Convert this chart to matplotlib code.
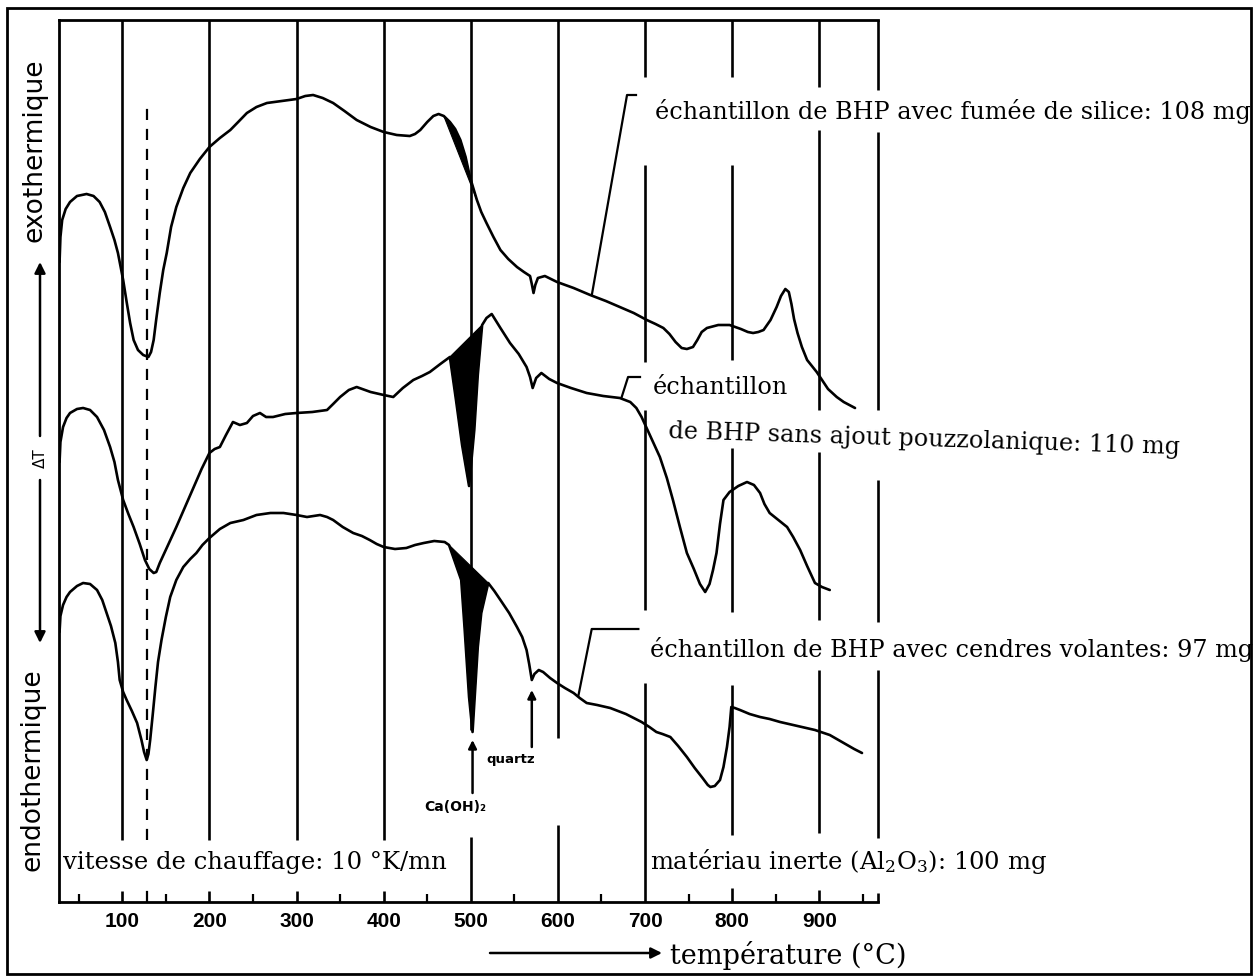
import matplotlib
matplotlib.use("Agg")
import matplotlib.pyplot as plt
from matplotlib.patches import Rectangle, FancyArrowPatch

plt.rcParams['mathtext.fontset'] = 'dejavuserif'

W, H = 1258, 976

# DTA curves, temperature in °C, ΔT in chart units
t_silica = [28, 29, 31, 35, 40, 48, 59, 67, 74, 80, 86, 91, 95, 101, 105, 109, 113,
            118, 124, 130, 133, 136, 139, 143, 147, 151, 156, 162, 170, 178, 189,
            200, 212, 224, 233, 243, 254, 266, 283, 300, 310, 319, 330, 342, 355,
            369, 385, 400, 415, 430, 436, 442, 450, 457, 463, 469, 476, 482, 488,
            494, 499, 507, 512, 518, 526, 534, 543, 553, 561, 568, 570, 572, 574,
            577, 585, 599, 618, 637, 655, 671, 687, 702, 712, 721, 728, 735, 742,
            748, 755, 760, 765, 771, 784, 797, 810, 818, 824, 830, 836, 844, 851,
            856, 861, 865, 868, 871, 875, 880, 886, 897, 910, 920, 928, 941]
dt_silica = [64.0, 66.5, 68.2, 69.3, 70.0, 70.6, 70.8, 70.6, 70.0, 69.0, 67.5, 66.2,
             64.9, 62.2, 60.0, 57.9, 56.2, 55.2, 54.7, 54.5, 55.0, 56.2, 58.3, 60.9,
             63.2, 64.9, 67.5, 69.5, 71.4, 72.9, 74.3, 75.5, 76.4, 77.2, 78.0, 78.9,
             79.5, 79.9, 80.1, 80.3, 80.6, 80.7, 80.4, 79.9, 79.1, 78.2, 77.5, 77.0,
             76.7, 76.6, 76.8, 77.2, 78.0, 78.6, 78.8, 78.6, 78.0, 77.3, 76.2, 74.5,
             72.5, 70.2, 69.0, 67.9, 66.5, 65.2, 64.3, 63.5, 63.0, 62.6, 61.8, 60.9,
             61.7, 62.4, 62.6, 62.0, 61.4, 60.7, 60.1, 59.5, 58.9, 58.2, 57.8, 57.4,
             56.8, 56.0, 55.4, 55.3, 55.5, 56.2, 57.0, 57.4, 57.7, 57.7, 57.3, 57.0,
             56.9, 57.0, 57.2, 58.2, 59.5, 60.6, 61.3, 61.0, 59.8, 58.3, 56.9, 55.5,
             54.2, 53.0, 51.3, 50.5, 50.0, 49.4]

t_plain = [28, 29, 32, 36, 40, 48, 55, 63, 71, 79, 86, 91, 95, 101, 107, 113, 120,
           126, 131, 136, 139, 143, 152, 162, 172, 182, 191, 200, 206, 212, 219,
           227, 235, 243, 250, 258, 265, 273, 287, 300, 318, 335, 342, 350, 360,
           369, 385, 400, 411, 422, 434, 444, 453, 465, 476, 483, 490, 498, 504,
           508, 513, 518, 524, 534, 545, 555, 564, 568, 571, 575, 581, 590, 599,
           615, 633, 652, 671, 683, 690, 696, 706, 717, 725, 732, 740, 748, 756,
           763, 769, 774, 778, 782, 786, 790, 797, 807, 817, 825, 832, 837, 843,
           853, 863, 870, 878, 886, 895, 903, 912]
dt_plain = [44.0, 46.0, 47.5, 48.4, 48.9, 49.3, 49.4, 49.2, 48.5, 47.2, 45.5, 44.0,
            42.2, 40.2, 38.8, 37.5, 35.8, 34.2, 33.3, 32.9, 33.0, 33.9, 35.6, 37.5,
            39.5, 41.5, 43.3, 44.9, 45.3, 45.5, 46.7, 48.0, 47.7, 47.9, 48.6, 48.9,
            48.5, 48.5, 48.8, 48.9, 49.0, 49.2, 49.8, 50.5, 51.2, 51.5, 51.0, 50.7,
            50.5, 51.4, 52.2, 52.6, 53.0, 53.8, 54.5, 50.2, 45.7, 41.6, 47.2, 52.7,
            57.7, 58.4, 58.8, 57.4, 55.9, 54.8, 53.5, 52.5, 51.4, 52.4, 52.9, 52.3,
            51.9, 51.4, 50.9, 50.6, 50.4, 50.0, 49.4, 48.5, 46.6, 44.5, 42.4, 40.2,
            37.5, 34.9, 33.3, 31.8, 31.0, 31.8, 33.2, 34.9, 37.8, 40.2, 41.0, 41.6,
            42.0, 41.7, 40.9, 39.8, 38.9, 38.2, 37.5, 36.5, 35.2, 33.6, 31.9, 31.5,
            31.2]

t_ash = [28, 29, 32, 36, 40, 48, 55, 63, 71, 77, 82, 87, 92, 95, 97, 101, 105, 111,
         117, 122, 125, 128, 130, 132, 135, 138, 141, 145, 150, 155, 162, 170, 178,
         185, 192, 200, 212, 224, 239, 254, 270, 285, 300, 312, 327, 335, 342, 353,
         365, 375, 384, 392, 400, 413, 426, 436, 446, 458, 470, 475, 489, 493, 498,
         502, 508, 512, 520, 527, 534, 544, 553, 559, 564, 567, 570, 573, 578, 583,
         591, 599, 608, 618, 625, 633, 645, 660, 678, 696, 705, 713, 720, 729, 738,
         748, 757, 766, 772, 775, 780, 786, 790, 794, 797, 799, 803, 809, 820, 832,
         843, 855, 875, 895, 912, 922, 932, 940, 949]
dt_ash = [27.0, 28.6, 29.7, 30.5, 31.0, 31.6, 31.9, 31.8, 31.2, 30.2, 28.9, 27.6,
          25.9, 24.0, 22.2, 21.0, 20.2, 19.1, 17.9, 16.2, 15.0, 14.2, 14.8, 16.2,
          18.8, 21.5, 24.0, 26.2, 28.5, 30.5, 32.2, 33.5, 34.3, 34.9, 35.7, 36.4,
          37.3, 37.9, 38.2, 38.7, 38.9, 38.9, 38.7, 38.5, 38.7, 38.5, 38.2, 37.5,
          36.9, 36.6, 36.2, 35.8, 35.5, 35.3, 35.4, 35.7, 35.9, 36.1, 36.0, 35.7,
          32.2, 27.2, 20.5, 17.0, 25.5, 28.9, 31.9, 31.1, 30.2, 28.9, 27.5, 26.5,
          25.2, 23.8, 22.2, 22.8, 23.2, 23.0, 22.4, 21.9, 21.4, 20.9, 20.4, 19.9,
          19.7, 19.4, 18.8, 18.0, 17.5, 17.0, 16.8, 16.5, 15.6, 14.5, 13.4, 12.4,
          11.7, 11.5, 11.6, 12.2, 13.5, 15.5, 17.5, 19.5, 19.4, 19.2, 18.8, 18.5,
          18.3, 18.0, 17.6, 17.2, 16.7, 16.2, 15.7, 15.3, 14.9]

# shaded Ca(OH)2 decomposition zones (temperature span on each curve)
caoh_silica = (469, 507)
caoh_plain = (476, 513)
caoh_ash = (475, 520)

t_min, t_max = 27.7, 967.7
dt_top = 88.2
grid_temps = [100, 200, 300, 400, 500, 600, 700, 800, 900]
minor_temps = [50, 150, 250, 350, 450, 550, 650, 750, 850, 950]
t_peak_water = 128
t_caoh = 502
t_quartz = 570

# visible parts of each vertical line (gaps sit behind the labels)
grid_parts = {
    100: [(6.2, dt_top), (0, 1.1)],
    200: [(6.2, dt_top), (0, 1.1)],
    300: [(6.2, dt_top), (0, 1.1)],
    400: [(6.2, dt_top), (0, 1.1)],
    500: [(17.2, dt_top), (0, 6.5)],
    600: [(16.4, dt_top), (0, 7.7)],
    700: [(82.5, dt_top), (54.0, 73.7), (29.2, 49.2), (0, 21.9)],
    800: [(82.5, dt_top), (54.2, 73.7), (29.0, 45.4), (6.7, 21.7), (0, 1.4)],
    900: [(81.5, dt_top), (49.2, 77.2), (28.2, 45.0), (6.9, 23.2), (0, 1.2)],
    t_max: [(81.2, dt_top), (49.2, 77.0), (28.0, 42.2), (6.4, 23.2), (0, 0.9)],
}
dashed_parts = [(6.2, 79.9), (0, 1.3)]


def fx(px):
    return px / W


def fy(py):
    return 1 - py / H


fig = plt.figure(figsize=(W / 100, H / 100), dpi=100)
ax = fig.add_axes([fx(59.3), fy(902), (878.3 - 59.3) / W, (902 - 20) / H])
ax.set_xlim(t_min, t_max)
ax.set_ylim(0, dt_top)

lw = 1.9
for t, parts in grid_parts.items():
    for lo, hi in parts:
        ax.plot([t, t], [lo, hi], color='black', lw=lw, solid_capstyle='butt',
                clip_on=False, zorder=1)

for lo, hi in dashed_parts:
    ax.plot([t_peak_water, t_peak_water], [lo, hi], color='black', lw=1.6,
            linestyle=(0, (5, 4)), zorder=1)

curves = [(t_silica, dt_silica, caoh_silica),
          (t_plain, dt_plain, caoh_plain),
          (t_ash, dt_ash, caoh_ash)]
for ts, dts, (a, b) in curves:
    ax.plot(ts, dts, color='black', lw=lw, zorder=3, solid_joinstyle='round',
            solid_capstyle='round')
    seg = [(t, d) for t, d in zip(ts, dts) if a <= t <= b]
    ax.fill([p[0] for p in seg], [p[1] for p in seg], color='black', lw=0.8,
            zorder=3)

# leader lines from the curves to their labels
ax.plot([689.6, 679.3, 639.1], [80.7, 80.7, 60.8], color='black', lw=1.6, zorder=3)
ax.plot([694.2, 680.5, 673.2], [52.5, 52.5, 50.5], color='black', lw=1.6, zorder=3)
ax.plot([692.3, 638.8, 623.4], [27.3, 27.3, 20.6], color='black', lw=1.6, zorder=3)

arrow_kw = dict(arrowstyle='-|>', lw=1.8, color='black', mutation_scale=12,
                shrinkA=0, shrinkB=0)
ax.annotate('', xy=(t_caoh, 16.2), xytext=(t_caoh, 10.9), arrowprops=arrow_kw)
ax.annotate('', xy=(t_quartz, 21.2), xytext=(t_quartz, 15.5), arrowprops=arrow_kw)
ax.text(t_caoh - 20, 9.5, 'Ca(OH)₂', fontsize=10, fontweight='bold',
        ha='center', va='center', family='DejaVu Sans')
ax.text(t_quartz - 52, 14.2, 'quartz', fontsize=9.5, fontweight='bold',
        ha='left', va='center', family='DejaVu Sans')

for side in ['top', 'left', 'bottom']:
    ax.spines[side].set_linewidth(2)
ax.spines['right'].set_visible(False)
ax.set_yticks([])
ax.set_xticks(grid_temps)
ax.set_xticklabels([str(t) for t in grid_temps], fontsize=15, fontweight='bold',
                   family='Liberation Sans')
ax.set_xticks(minor_temps, minor=True)
ax.tick_params(axis='x', which='major', length=0, pad=7)
ax.tick_params(axis='x', which='minor', direction='in', length=6, width=1.6)

serif = 'DejaVu Serif'
fs = 17.2
fig.text(fx(63), fy(863), 'vitesse de chauffage: 10 °K/mn', fontsize=17.5,
         family=serif, va='center', ha='left')
fig.text(fx(650), fy(862), r'matériau inerte (Al$_2$O$_3$): 100 mg', fontsize=17.5,
         family=serif, va='center', ha='left')
fig.text(fx(655), fy(112), 'échantillon de BHP avec fumée de silice: 108 mg',
         fontsize=fs, family=serif, va='center', ha='left')
fig.text(fx(653), fy(388), 'échantillon', fontsize=fs, family=serif,
         va='center', ha='left')
fig.text(fx(668), fy(432), 'de BHP sans ajout pouzzolanique: 110 mg', fontsize=fs,
         family=serif, va='center', ha='left', rotation=-1.8, rotation_mode='anchor')
fig.text(fx(650), fy(650), 'échantillon de BHP avec cendres volantes: 97 mg',
         fontsize=fs, family=serif, va='center', ha='left')
fig.text(fx(670), fy(955), 'température (°C)', fontsize=19.5, family=serif,
         va='center', ha='left')

# ΔT axis annotation on the left
fig.text(fx(35), fy(150), 'exothermique', rotation=90, fontsize=19,
         ha='center', va='center')
fig.text(fx(33), fy(770), 'endothermique', rotation=90, fontsize=19,
         ha='center', va='center')
fig.text(fx(40), fy(458), 'ΔT', rotation=90, fontsize=11, ha='center', va='center')


def fig_arrow(p0, p1):
    fig.add_artist(FancyArrowPatch((fx(p0[0]), fy(p0[1])), (fx(p1[0]), fy(p1[1])),
                                   transform=fig.transFigure, arrowstyle='-|>',
                                   mutation_scale=16, lw=1.8, color='black',
                                   shrinkA=0, shrinkB=0))


fig_arrow((40, 436), (40, 262))
fig_arrow((40, 480), (40, 643))
fig_arrow((490, 953), (662, 953))

fig.add_artist(Rectangle((fx(7), fy(974)), (1251 - 7) / W, (974 - 8) / H,
                         transform=fig.transFigure, fill=False, lw=2, ec='black'))

fig.savefig('out.png', dpi=100)
